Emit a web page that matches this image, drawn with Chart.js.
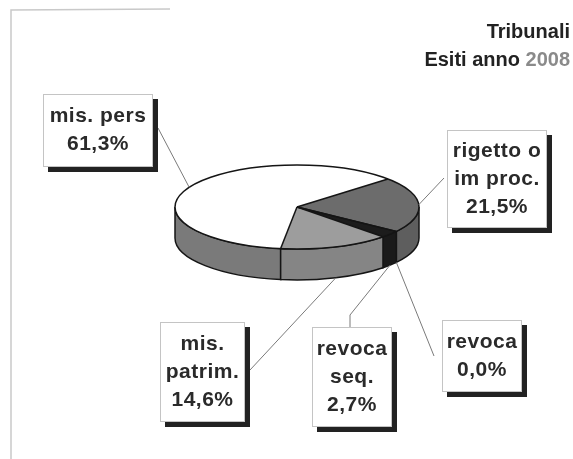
<!DOCTYPE html>
<html>
<head>
<meta charset="utf-8">
<script src="https://cdn.jsdelivr.net/npm/chart.js@4.4.0/dist/chart.umd.min.js"></script>
<style>
  html, body { margin: 0; padding: 0; background: #fff; }
  #wrap { position: relative; width: 573px; height: 459px; }
</style>
</head>
<body>
<div id="wrap"><canvas id="pie" width="573" height="459"></canvas></div>
<script>
// Data
const categories = [["mis. pers"], ["rigetto o", "im proc."], ["revoca"], ["revoca", "seq."], ["mis.", "patrim."]];
const values = [61.3, 21.5, 0.0, 2.7, 14.6];
const titleLine1 = "Tribunali";
const titleLine2 = "Esiti anno ";
const titleYear = "2008";

// Colours (top face / side wall)
const topColors = ['#ffffff', '#6c6c6c', '#6c6c6c', '#1c1c1c', '#9d9d9d'];
const sideColors = ['#7a7a7a', '#5e5e5e', '#5e5e5e', '#1a1a1a', '#858585'];

// Callout boxes (layout only)
const boxes = [
    { x: 43, y: 94, w: 110, h: 73, from: [158, 128], drop: false },
    { x: 447, y: 130, w: 100, h: 98, from: [444, 178], drop: false },
    { x: 442, y: 320, w: 80, h: 72, from: [434, 356], drop: true },
    { x: 312, y: 327, w: 80, h: 100, from: [350, 327], elbow: [350, 315], drop: true },
    { x: 160, y: 322, w: 85, h: 100, from: [250, 370], drop: true }
];

const SQUASH = 0.344;
const DEPTH = 31;
const FONT = 'bold 21px "Liberation Sans", Arial, sans-serif';

// front half of the ellipse is angle 0..PI (and 2PI..3PI)
function frontParts(s, e) {
    const parts = [];
    [[0, Math.PI], [2 * Math.PI, 3 * Math.PI]].forEach(([a, b]) => {
        const lo = Math.max(s, a), hi = Math.min(e, b);
        if (hi > lo) parts.push([lo, hi]);
    });
    return parts;
}

const pie3d = {
    id: 'pie3d',
    beforeDatasetDraw(chart) {
        const ctx = chart.ctx;
        const arcs = chart.getDatasetMeta(0).data;
        const cx = arcs[0].x, cy = arcs[0].y, r = arcs[0].outerRadius, ry = r * SQUASH;
        // side walls
        arcs.forEach((arc, i) => {
            frontParts(arc.startAngle, arc.endAngle).forEach(([a, b]) => {
                ctx.beginPath();
                ctx.ellipse(cx, cy, r, ry, 0, a, b);
                ctx.lineTo(cx + r * Math.cos(b), cy + ry * Math.sin(b) + DEPTH);
                ctx.ellipse(cx, cy + DEPTH, r, ry, 0, b, a, true);
                ctx.closePath();
                ctx.fillStyle = sideColors[i];
                ctx.fill();
                ctx.lineWidth = 1.5;
                ctx.strokeStyle = '#151515';
                ctx.stroke();
            });
        });
        // squash the top face
        ctx.save();
        ctx.translate(cx, cy);
        ctx.scale(1, SQUASH);
        ctx.translate(-cx, -cy);
    },
    afterDatasetDraw(chart) {
        const ctx = chart.ctx;
        ctx.restore();
        const arcs = chart.getDatasetMeta(0).data;
        const cx = arcs[0].x, cy = arcs[0].y, r = arcs[0].outerRadius, ry = r * SQUASH;
        ctx.save();
        ctx.lineWidth = 1.5;
        ctx.strokeStyle = '#151515';
        ctx.beginPath();
        ctx.ellipse(cx, cy, r, ry, 0, 0, 2 * Math.PI);
        ctx.stroke();
        arcs.forEach(arc => {
            ctx.beginPath();
            ctx.moveTo(cx, cy);
            ctx.lineTo(cx + r * Math.cos(arc.startAngle), cy + ry * Math.sin(arc.startAngle));
            ctx.stroke();
        });
        ctx.restore();
    },
    afterDraw(chart) {
        const ctx = chart.ctx;
        const arcs = chart.getDatasetMeta(0).data;
        const cx = arcs[0].x, cy = arcs[0].y, r = arcs[0].outerRadius, ry = r * SQUASH;
        ctx.save();

        // faint frame
        ctx.strokeStyle = '#c9c9c9';
        ctx.lineWidth = 1.5;
        ctx.beginPath();
        ctx.moveTo(11, 459);
        ctx.lineTo(11, 10);
        ctx.lineTo(170, 9);
        ctx.stroke();

        // leader lines
        ctx.strokeStyle = '#7a7a7a';
        ctx.lineWidth = 1;
        arcs.forEach((arc, i) => {
            const b = boxes[i];
            const mid = (arc.startAngle + arc.endAngle) / 2;
            const px = cx + r * Math.cos(mid);
            const py = cy + ry * Math.sin(mid) + (b.drop ? DEPTH : 0);
            ctx.beginPath();
            ctx.moveTo(b.from[0], b.from[1]);
            if (b.elbow) ctx.lineTo(b.elbow[0], b.elbow[1]);
            ctx.lineTo(px, py);
            ctx.stroke();
        });

        // callout boxes
        ctx.font = FONT;
        ctx.letterSpacing = '0.5px';
        ctx.textAlign = 'center';
        ctx.textBaseline = 'middle';
        boxes.forEach((b, i) => {
            ctx.fillStyle = '#222';
            ctx.fillRect(b.x + 5, b.y + 5, b.w, b.h);
            ctx.fillStyle = '#fff';
            ctx.fillRect(b.x, b.y, b.w, b.h);
            ctx.strokeStyle = '#c4c4c4';
            ctx.strokeRect(b.x + 0.5, b.y + 0.5, b.w - 1, b.h - 1);
            const lines = categories[i].concat([values[i].toFixed(1).replace('.', ',') + '%']);
            const lh = 28;
            const y0 = b.y + b.h / 2 - (lines.length - 1) * lh / 2;
            ctx.fillStyle = '#2a2a2a';
            lines.forEach((t, k) => ctx.fillText(t, b.x + b.w / 2, y0 + k * lh));
        });

        // title
        ctx.letterSpacing = '0px';
        ctx.font = 'bold 20px "Liberation Sans", Arial, sans-serif';
        ctx.textAlign = 'right';
        ctx.fillStyle = '#222';
        ctx.fillText(titleLine1, 570, 32);
        const yw = ctx.measureText(titleYear).width;
        ctx.fillStyle = '#8a8a8a';
        ctx.fillText(titleYear, 570, 60);
        ctx.fillStyle = '#222';
        ctx.fillText(titleLine2, 570 - yw, 60);
        ctx.restore();
    }
};

const ctx = document.getElementById('pie').getContext('2d');
new Chart(ctx, {
    type: 'pie',
    data: {
        labels: categories.map(c => c.join(' ')),
        datasets: [{
            data: values,
            backgroundColor: topColors,
            borderWidth: 0
        }]
    },
    options: {
        responsive: false,
        animation: false,
        rotation: 187.7,
        layout: { padding: { left: 175, right: 154, top: 85, bottom: 130 } },
        plugins: {
            legend: { display: false },
            tooltip: { enabled: false },
            title: { display: false }
        }
    },
    plugins: [pie3d]
});
</script>
</body>
</html>
